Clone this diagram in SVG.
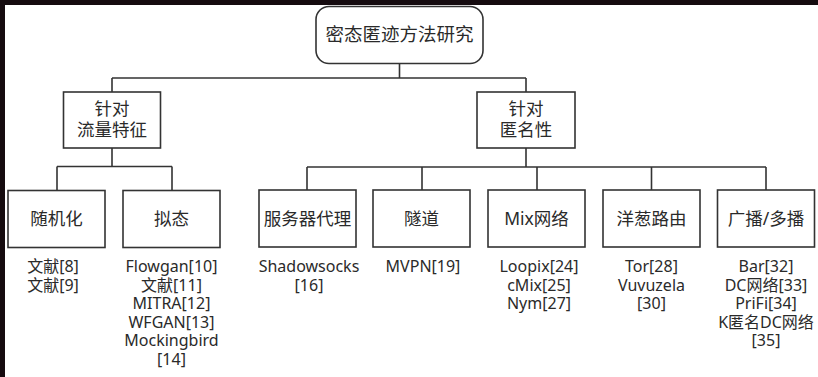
<svg xmlns="http://www.w3.org/2000/svg" width="818" height="377" viewBox="0 0 818 377">
<style>
.box{fill:#fff;stroke:#333;stroke-width:1.6}
.lbl{font-family:"Noto Sans","Noto Sans CJK SC",sans-serif;font-size:17.5px;fill:#2a2a2a;text-anchor:middle}
.leaf{font-family:"Noto Sans","Noto Sans CJK SC",sans-serif;font-size:16px;fill:#2a2a2a;text-anchor:middle}
.edge{fill:none;stroke:#333;stroke-width:1.6}
</style>
<rect x="0" y="0" width="818" height="377" fill="#150b0f"/>
<rect x="5" y="5" width="813" height="372" fill="#fff"/>
<g id="connectors">
<path class="edge" d="M399.5 63V78M112 78H526M112 78V92M526 78V92"/>
<path class="edge" d="M112 148V166.5M57 166.5H172M57 166.5V190.5M172 166.5V190.5"/>
<path class="edge" d="M526 148V167M307 167H766M307 167V190.5M422 167V190.5M537 167V190.5M651.5 167V190.5M766 167V190.5"/>
</g>
<g id="root"><rect class="box" x="316" y="6.5" width="167" height="57" rx="13"/><text class="lbl" x="399.5" y="41" style="font-size:18.5px">密态匿迹方法研究</text></g>
<g id="traffic"><rect class="box" x="63.5" y="92" width="97" height="56"/><text class="lbl" x="112" y="115">针对</text><text class="lbl" x="112" y="136">流量特征</text></g>
<g id="anon"><rect class="box" x="477" y="92" width="98" height="56"/><text class="lbl" x="526" y="115">针对</text><text class="lbl" x="526" y="136">匿名性</text></g>
<g id="random"><rect class="box" x="8" y="190.5" width="97" height="57"/><text class="lbl" x="56.5" y="225">随机化</text>
<text class="leaf" x="53" y="272">文献[8]</text><text class="leaf" x="53" y="290.5">文献[9]</text></g>
<g id="mimic"><rect class="box" x="123" y="190.5" width="97" height="57"/><text class="lbl" x="171.5" y="225">拟态</text>
<text class="leaf" x="171.5" y="272">Flowgan[10]</text><text class="leaf" x="171.5" y="290.5">文献[11]</text><text class="leaf" x="171.5" y="309">MITRA[12]</text><text class="leaf" x="171.5" y="327.5">WFGAN[13]</text><text class="leaf" x="171.5" y="346">Mockingbird</text><text class="leaf" x="171.5" y="364.5">[14]</text></g>
<g id="proxy"><rect class="box" x="259" y="190" width="97" height="57"/><text class="lbl" x="307.5" y="225">服务器代理</text>
<text class="leaf" x="309" y="272">Shadowsocks</text><text class="leaf" x="309" y="290.5">[16]</text></g>
<g id="tunnel"><rect class="box" x="373" y="190" width="97" height="57"/><text class="lbl" x="421.5" y="225">隧道</text>
<text class="leaf" x="423" y="272">MVPN[19]</text></g>
<g id="mix"><rect class="box" x="488" y="190" width="97" height="57"/><text class="lbl" x="536.5" y="225">Mix网络</text>
<text class="leaf" x="539" y="272">Loopix[24]</text><text class="leaf" x="539" y="290.5">cMix[25]</text><text class="leaf" x="539" y="309">Nym[27]</text></g>
<g id="onion"><rect class="box" x="603" y="190" width="97" height="57"/><text class="lbl" x="651.5" y="225">洋葱路由</text>
<text class="leaf" x="651.5" y="272">Tor[28]</text><text class="leaf" x="651.5" y="290.5">Vuvuzela</text><text class="leaf" x="651.5" y="309">[30]</text></g>
<g id="broadcast"><rect class="box" x="717.5" y="190" width="97" height="57"/><text class="lbl" x="766" y="225">广播/多播</text>
<text class="leaf" x="766" y="272">Bar[32]</text><text class="leaf" x="766" y="290.5">DC网络[33]</text><text class="leaf" x="766" y="309">PriFi[34]</text><text class="leaf" x="766" y="327.5">K匿名DC网络</text><text class="leaf" x="766" y="346">[35]</text></g>
</svg>
